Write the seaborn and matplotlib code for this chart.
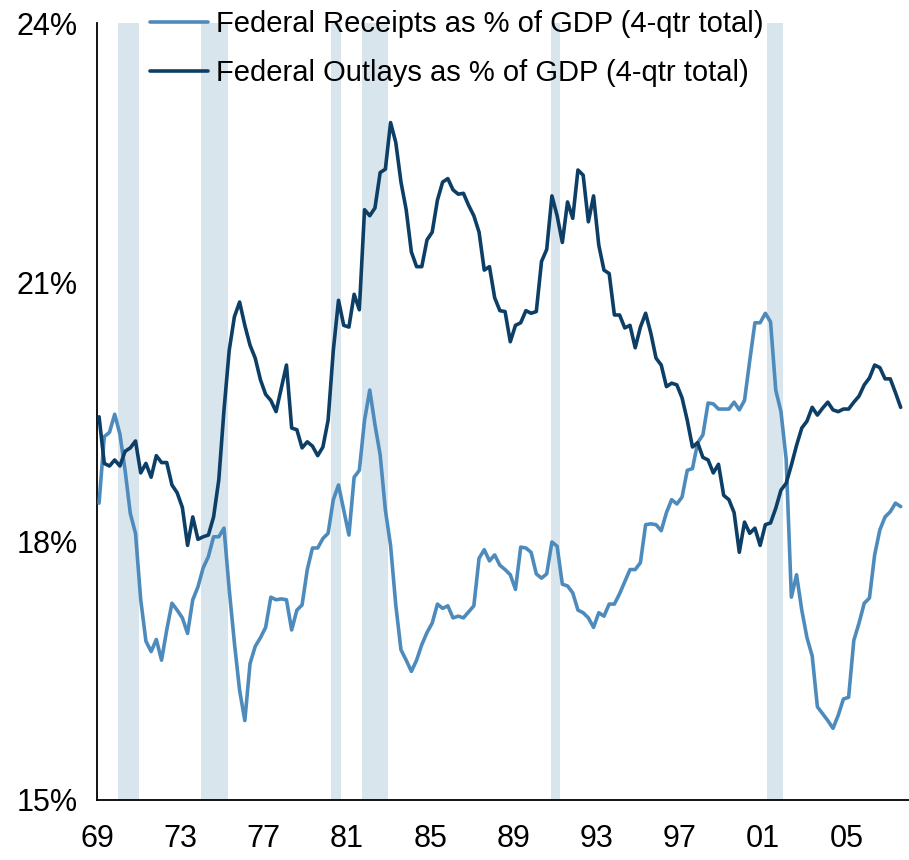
import matplotlib

matplotlib.use("Agg")

import matplotlib.pyplot as plt
import numpy as np
import pandas as pd
import seaborn as sns
from matplotlib.ticker import FuncFormatter

# quarterly series, 1969Q1 .. 2007Q3 (% of GDP, 4-qtr totals)
receipts = [
    18.44, 19.21, 19.26, 19.47, 19.24, 18.82, 18.32, 18.09, 17.32, 16.84,
    16.72, 16.86, 16.62, 16.97, 17.28, 17.20, 17.11, 16.93, 17.32, 17.47,
    17.69, 17.82, 18.05, 18.05, 18.15, 17.44, 16.82, 16.27, 15.92, 16.58,
    16.78, 16.88, 17.00, 17.35, 17.32, 17.33, 17.32, 16.97, 17.20, 17.26,
    17.67, 17.92, 17.92, 18.03, 18.09, 18.48, 18.65, 18.36, 18.07, 18.74,
    18.82, 19.40, 19.75, 19.35, 19.00, 18.36, 17.95, 17.26, 16.74, 16.62,
    16.49, 16.62, 16.80, 16.94, 17.05, 17.27, 17.22, 17.25, 17.11, 17.13,
    17.11, 17.18, 17.25, 17.80, 17.90, 17.77, 17.84, 17.72, 17.67, 17.61,
    17.44, 17.93, 17.92, 17.87, 17.62, 17.57, 17.62, 17.99, 17.94, 17.50,
    17.48, 17.40, 17.20, 17.17, 17.11, 17.00, 17.17, 17.13, 17.27, 17.27,
    17.39, 17.53, 17.67, 17.67, 17.75, 18.19, 18.20, 18.19, 18.12, 18.33,
    18.48, 18.43, 18.51, 18.82, 18.84, 19.14, 19.23, 19.60, 19.59, 19.53,
    19.53, 19.53, 19.61, 19.52, 19.63, 20.09, 20.53, 20.53, 20.64, 20.54,
    19.75, 19.50, 18.95, 17.35, 17.61, 17.20, 16.88, 16.67, 16.08, 16.00,
    15.92, 15.83, 15.98, 16.17, 16.19, 16.85, 17.05, 17.28, 17.34, 17.84,
    18.13, 18.28, 18.34, 18.44, 18.40,
]
outlays = [
    19.44, 18.90, 18.87, 18.94, 18.87, 19.04, 19.08, 19.16, 18.79, 18.90,
    18.74, 18.99, 18.91, 18.91, 18.65, 18.56, 18.39, 17.95, 18.28, 18.02,
    18.05, 18.07, 18.28, 18.71, 19.52, 20.21, 20.60, 20.77, 20.50, 20.27,
    20.12, 19.87, 19.70, 19.63, 19.50, 19.77, 20.04, 19.31, 19.29, 19.08,
    19.15, 19.10, 18.99, 19.09, 19.40, 20.21, 20.79, 20.50, 20.48, 20.86,
    20.68, 21.84, 21.77, 21.86, 22.27, 22.31, 22.85, 22.62, 22.16, 21.84,
    21.35, 21.18, 21.18, 21.49, 21.58, 21.95, 22.16, 22.20, 22.07, 22.02,
    22.03, 21.89, 21.77, 21.58, 21.14, 21.18, 20.82, 20.67, 20.66, 20.31,
    20.50, 20.53, 20.67, 20.64, 20.66, 21.24, 21.38, 22.00, 21.77, 21.46,
    21.93, 21.74, 22.30, 22.24, 21.70, 22.00, 21.43, 21.14, 21.10, 20.62,
    20.62, 20.47, 20.50, 20.24, 20.48, 20.64, 20.41, 20.12, 20.04, 19.79,
    19.83, 19.81, 19.66, 19.40, 19.09, 19.14, 18.97, 18.94, 18.79, 18.89,
    18.53, 18.48, 18.33, 17.87, 18.22, 18.09, 18.15, 17.95, 18.19, 18.21,
    18.38, 18.59, 18.67, 18.88, 19.11, 19.31, 19.39, 19.55, 19.46, 19.54,
    19.61, 19.52, 19.50, 19.53, 19.53, 19.61, 19.68, 19.81, 19.89, 20.04,
    20.01, 19.88, 19.88, 19.72, 19.55,
]

# recession shading (decimal years)
rec_start = [1970.0, 1974.0, 1980.25, 1981.75, 1990.8, 2001.2]
rec_end = [1971.0, 1975.3, 1980.7, 1983.0, 1991.25, 2001.95]

tick_years = list(range(1969, 2006, 4))
tick_labels = [f"{y % 100:02d}" for y in tick_years]

label_rec = "Federal Receipts as % of GDP (4-qtr total)"
label_out = "Federal Outlays as % of GDP (4-qtr total)"

dates = 1969.1 + 0.25 * np.arange(len(receipts))
df = pd.concat(
    [
        pd.DataFrame({"date": dates, "pct": receipts, "series": label_rec}),
        pd.DataFrame({"date": dates, "pct": outlays, "series": label_out}),
    ]
)

sns.set_style("white")
plt.rcParams["font.family"] = ["Liberation Sans", "DejaVu Sans"]
plt.rcParams["text.color"] = "black"

fig = plt.figure(figsize=(9.09, 8.6), dpi=100)
ax = fig.add_axes([0.1067, 0.0698, 0.8933, 0.9031])

for s, e in zip(rec_start, rec_end):
    ax.axvspan(s, e, color="#d9e5ec", lw=0, zorder=0)

sns.lineplot(
    data=df, x="date", y="pct", hue="series",
    palette={label_rec: "#4e8bbd", label_out: "#0d3f66"},
    linewidth=2.6, ax=ax, zorder=3,
)

ax.set_xlim(1969, 2008)
ax.set_ylim(15, 24)
ax.set_xticks(tick_years)
ax.set_xticklabels(tick_labels)
ax.set_yticks([15, 18, 21, 24])
ax.yaxis.set_major_formatter(FuncFormatter(lambda v, _: f"{v:.0f}%"))
ax.set_xlabel("")
ax.set_ylabel("")

for side in ["top", "right"]:
    ax.spines[side].set_visible(False)
for side in ["left", "bottom"]:
    ax.spines[side].set_color("black")
    ax.spines[side].set_linewidth(1.3)

ax.tick_params(axis="x", direction="out", length=8.5, width=1.3, pad=9, labelsize=22)
ax.tick_params(axis="y", direction="out", length=5, width=1.3, pad=9, labelsize=22)
ax.tick_params(colors="black", labelcolor="black")

handles, labels = ax.get_legend_handles_labels()
leg = ax.legend(
    handles, labels, loc="upper left", bbox_to_anchor=(150 / 909, 1 - 10 / 860),
    bbox_transform=fig.transFigure, frameon=False, fontsize=21,
    handlelength=2.0, handletextpad=0.28, labelspacing=0.72, borderpad=0, borderaxespad=0,
)
for t in leg.get_texts():
    t.set_color("black")

fig.savefig("out.png", dpi=100)
